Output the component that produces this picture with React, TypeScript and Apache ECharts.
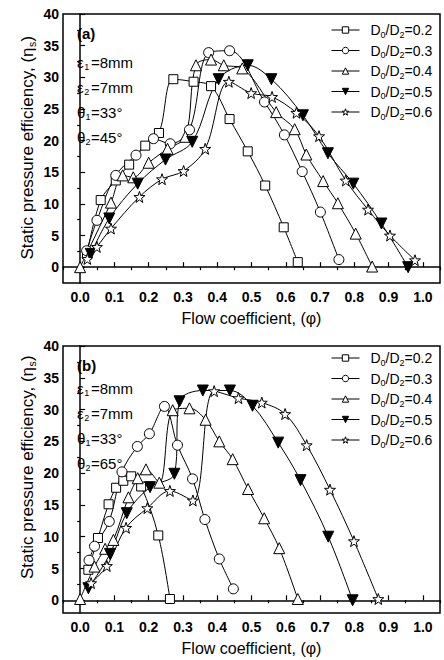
import React, { useEffect, useRef } from 'react';
import * as echarts from 'echarts';

// ---------- data ----------
const seriesNames = ['D0/D2=0.2', 'D0/D2=0.3', 'D0/D2=0.4', 'D0/D2=0.5', 'D0/D2=0.6'];

const xMajorTicks = [0, 0.1, 0.2, 0.3, 0.4, 0.5, 0.6, 0.7, 0.8, 0.9, 1.0];
const xMinorTicks = [-0.05, 0.05, 0.15, 0.25, 0.35, 0.45, 0.55, 0.65, 0.75, 0.85, 0.95, 1.05];
const yMajorTicks = [0, 5, 10, 15, 20, 25, 30, 35, 40];
const yMinorTicks = [2.5, 7.5, 12.5, 17.5, 22.5, 27.5, 32.5, 37.5];

// panel (a): theta2 = 45 deg
const a02 = [[0.02, 2.1], [0.06, 10.6], [0.104, 13.7], [0.143, 16.2], [0.19, 19.2], [0.23, 21.2], [0.272, 29.7], [0.331, 29.3], [0.382, 28.6], [0.436, 23.4], [0.489, 18.3], [0.54, 12.9], [0.594, 6.3], [0.635, 0.8]];
const a03 = [[0.019, 2.6], [0.049, 7.4], [0.104, 14.5], [0.163, 17.7], [0.214, 20.3], [0.263, 19.5], [0.319, 21.7], [0.375, 33.9], [0.436, 34.2], [0.538, 26.1], [0.596, 20.9], [0.648, 15.1], [0.701, 8.7], [0.755, 1.2]];
const a04 = [[0, 0], [0.09, 10.2], [0.124, 14.5], [0.155, 14.2], [0.2, 16.5], [0.255, 18.7], [0.307, 20.6], [0.338, 31.9], [0.382, 32.8], [0.419, 31.9], [0.473, 31.4], [0.572, 24.5], [0.626, 21.8], [0.66, 17.8], [0.709, 13.6], [0.752, 10.1], [0.804, 5.3], [0.852, 0.1]];
const a05 = [[0.031, 2.1], [0.085, 7.7], [0.168, 13.2], [0.249, 17.0], [0.327, 19.8], [0.404, 29.7], [0.489, 31.9], [0.558, 29.7], [0.65, 24.0], [0.723, 18.0], [0.797, 13.2], [0.879, 6.9], [0.957, 0.0]];
const a06 = [[0.021, 1.3], [0.049, 3.2], [0.09, 6.1], [0.173, 11.1], [0.239, 13.9], [0.302, 15.2], [0.365, 18.7], [0.434, 29.3], [0.499, 27.5], [0.56, 26.9], [0.631, 24.4], [0.697, 20.7], [0.775, 13.7], [0.84, 9.1], [0.904, 5.0], [0.977, 1.1]];

// panel (b): theta2 = 65 deg
const b02 = [[0.024, 4.8], [0.052, 9.8], [0.083, 15.1], [0.105, 17.7], [0.126, 18.8], [0.149, 19.5], [0.178, 17.9], [0.228, 10.2], [0.262, 0.2]];
const b03 = [[0.026, 6.3], [0.042, 8.5], [0.085, 12.4], [0.122, 20.2], [0.167, 24.2], [0.202, 26.2], [0.246, 30.5], [0.284, 24.4], [0.328, 19.1], [0.364, 12.7], [0.406, 6.5], [0.447, 1.8]];
const b04 = [[0, 0.2], [0.042, 5.3], [0.073, 8.1], [0.097, 9.5], [0.141, 16.2], [0.168, 19.2], [0.192, 20.6], [0.231, 18.5], [0.27, 29.9], [0.319, 30.2], [0.366, 28.4], [0.406, 25.0], [0.445, 22.2], [0.49, 17.5], [0.537, 12.9], [0.581, 8.2], [0.635, 0.2]];
const b05 = [[0.024, 1.9], [0.087, 7.3], [0.136, 13.7], [0.204, 17.8], [0.275, 19.9], [0.29, 31.3], [0.358, 33.0], [0.437, 33.0], [0.503, 30.6], [0.578, 24.8], [0.643, 18.9], [0.724, 10.0], [0.795, 0.0]];
const b06 = [[0.032, 2.7], [0.078, 5.4], [0.134, 11.4], [0.196, 14.5], [0.262, 17.2], [0.329, 15.7], [0.391, 32.9], [0.462, 31.8], [0.53, 31.1], [0.598, 29.3], [0.661, 24.4], [0.729, 17.4], [0.799, 9.3], [0.87, 0.2]];

const panelA = [a02, a03, a04, a05, a06];
const panelB = [b02, b03, b04, b05, b06];

// annotation lines: [symbol, subscript, rest]
const annotA = [['\u03b5', '1', '=8mm'], ['\u03b5', '2', '=7mm'], ['\u03b8', '1', '=33\u00b0'], ['\u03b8', '2', '=45\u00b0']];
const annotB = [['\u03b5', '1', '=8mm'], ['\u03b5', '2', '=7mm'], ['\u03b8', '1', '=33\u00b0'], ['\u03b8', '2', '=65\u00b0']];
const panelTags = ['(a)', '(b)'];
const yTitleMain = 'Static pressure efficiency, (\u03b7';
const yTitleSub = 's';
const yTitleEnd = ')';
const xTitle = 'Flow coefficient, (\u03c6)';

// ---------- styles ----------
const FONT = '"Liberation Sans", Arial, sans-serif';
const STAR = 'path://M0,-10L2.35,-3.24L9.51,-3.09L3.8,1.24L5.88,8.09L0,4L-5.88,8.09L-3.8,1.24L-9.51,-3.09L-2.35,-3.24Z';
const markers = [
  { symbol: 'rect', size: 9, rotate: 0, fill: '#fff' },
  { symbol: 'circle', size: 10, rotate: 0, fill: '#fff' },
  { symbol: 'triangle', size: 11, rotate: 0, fill: '#fff' },
  { symbol: 'triangle', size: 11, rotate: 180, fill: '#000' },
  { symbol: STAR, size: 11, rotate: 0, fill: '#fff' },
];

const grids = [
  { left: 63, top: 14, width: 377, height: 269 },
  { left: 63, top: 346, width: 377, height: 267 },
];
const yRanges = [[-2.5, 40], [-2, 40]];

const tickLine = { color: '#000', width: 1.2 };

function makeXAxes(gi: number) {
  const main = {
    type: 'value', gridIndex: gi, min: -0.05, max: 1.05,
    axisLine: { show: true, lineStyle: { color: '#000', width: 1.5 } },
    axisTick: { show: true, inside: true, length: 5, customValues: xMajorTicks, lineStyle: tickLine },
    axisLabel: {
      show: true, customValues: xMajorTicks, margin: 7,
      formatter: (v: number) => v.toFixed(1),
      fontFamily: FONT, fontSize: 14, fontWeight: 'bold', color: '#000',
    },
    splitLine: { show: false },
    name: xTitle, nameLocation: 'middle', nameGap: 27,
    nameTextStyle: { fontFamily: FONT, fontSize: 16, color: '#000' },
  };
  const minor = {
    type: 'value', gridIndex: gi, min: -0.05, max: 1.05,
    axisLine: { show: false },
    axisTick: { show: true, inside: true, length: 3, customValues: xMinorTicks, lineStyle: tickLine },
    axisLabel: { show: false },
    splitLine: { show: false },
  };
  return [main, minor];
}

function makeYAxes(gi: number) {
  const [mn, mx] = yRanges[gi];
  const main = {
    type: 'value', gridIndex: gi, min: mn, max: mx,
    axisLine: { show: true, lineStyle: { color: '#000', width: 1.5 } },
    axisTick: { show: true, inside: true, length: 5, customValues: yMajorTicks, lineStyle: tickLine },
    axisLabel: {
      show: true, customValues: yMajorTicks, margin: 4,
      fontFamily: FONT, fontSize: 14, fontWeight: 'bold', color: '#000',
    },
    splitLine: { show: false },
  };
  const minor = {
    type: 'value', gridIndex: gi, min: mn, max: mx,
    axisLine: { show: false },
    axisTick: { show: true, inside: true, length: 3, customValues: yMinorTicks, lineStyle: tickLine },
    axisLabel: { show: false },
    splitLine: { show: false },
  };
  return [main, minor];
}

function makeSeries(gi: number, panel: number[][][]) {
  return panel.map((data, i) => {
    const m = markers[i];
    return {
      name: seriesNames[i], type: 'line', xAxisIndex: gi, yAxisIndex: gi,
      data, smooth: 0.35,
      symbol: m.symbol, symbolSize: m.size, symbolRotate: m.rotate, showSymbol: true,
      itemStyle: { color: m.fill, borderColor: '#000', borderWidth: 1 },
      lineStyle: { color: '#000', width: 1 },
      emphasis: { disabled: true },
      z: 3,
    };
  });
}

const legendRich = {
  g: { width: 6 },
  n: { fontFamily: FONT, fontSize: 14, color: '#000', lineHeight: 18 },
  s: { fontFamily: FONT, fontSize: 9, color: '#000', verticalAlign: 'bottom', lineHeight: 9 },
};

function makeLegend(top: number) {
  return {
    orient: 'vertical', left: 331, top, padding: 0,
    itemWidth: 28, itemHeight: 8, itemGap: 4.5,
    data: seriesNames.map((name, i) => ({
      name,
      itemStyle: { color: markers[i].fill, borderColor: '#000', borderWidth: 1 },
      lineStyle: { color: '#000', width: 1 },
    })),
    formatter: (name: string) => `{g|}{n|D}{s|0}{n|/D}{s|2}{n|=${name.split('=')[1]}}`,
    textStyle: { fontFamily: FONT, fontSize: 14, color: '#000', rich: legendRich },
    selectedMode: false,
  };
}

function txt(x: number, y: number, text: string, size: number, opts: any = {}) {
  return {
    type: 'text', x, y, z: 10,
    style: {
      text, fill: '#000',
      font: `${opts.bold ? 'bold' : 'normal'} ${size}px ${FONT}`,
      align: opts.align || 'left', verticalAlign: 'middle',
    },
  };
}

function annotBlock(x: number, tagY: number, ys: number[], tag: string, lines: string[][]) {
  const els: any[] = [txt(x, tagY, tag, 15, { bold: true })];
  lines.forEach((ln, i) => {
    const y = ys[i];
    els.push(txt(x, y, ln[0], 15));
    els.push(txt(x + (ln[0] === '\u03b8' ? 8.6 : 7.2), y + 5, ln[1], 9));
    els.push(txt(x + 14, y, ln[2], 15));
  });
  return els;
}

function vTitle(x: number, y: number) {
  const a = 101;
  return {
    type: 'group', x, y, rotation: Math.PI / 2, z: 10,
    children: [
      txt(a, 0, yTitleMain, 17, { align: 'right' }),
      txt(a + 0.5, 5, yTitleSub, 10.5),
      txt(a + 6, 0, yTitleEnd, 17),
    ],
  };
}

export default function App() {
  const ref = useRef<HTMLDivElement>(null);
  useEffect(() => {
    if (!ref.current) return;
    const chart = echarts.init(ref.current, undefined, { renderer: 'svg' });
    const [xa0, xa1] = makeXAxes(0);
    const [xb0, xb1] = makeXAxes(1);
    const [ya0, ya1] = makeYAxes(0);
    const [yb0, yb1] = makeYAxes(1);
    chart.setOption({
      animation: false,
      backgroundColor: '#fff',
      grid: grids.map((g) => ({ ...g, show: true, borderColor: '#000', borderWidth: 1.5, backgroundColor: 'transparent' })),
      xAxis: [xa0, xb0, xa1, xb1],
      yAxis: [ya0, yb0, ya1, yb1],
      legend: [makeLegend(23), makeLegend(351)],
      series: [...makeSeries(0, panelA), ...makeSeries(1, panelB)],
      graphic: [
        ...annotBlock(77, 33, [62, 87, 112, 137], panelTags[0], annotA),
        ...annotBlock(77, 365, [388, 413, 438, 463], panelTags[1], annotB),
        vTitle(27, 148.5),
        vTitle(27, 468),
      ],
    });
    return () => chart.dispose();
  }, []);
  return <div ref={ref} style={{ position: 'fixed', left: 0, top: 0, width: 444, height: 660 }} />;
}
